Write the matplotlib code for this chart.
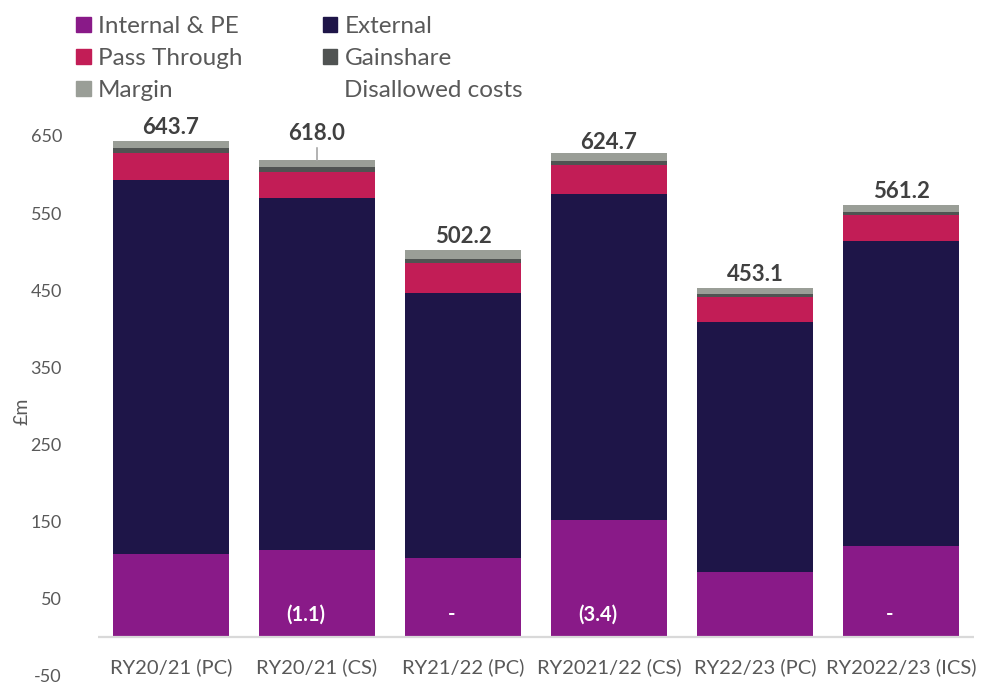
import matplotlib
matplotlib.use("Agg")
import matplotlib.pyplot as plt
from matplotlib.patches import Patch
import numpy as np

categories = ["RY20/21 (PC)", "RY20/21 (CS)", "RY21/22 (PC)", "RY2021/22 (CS)",
              "RY22/23 (PC)", "RY2022/23 (ICS)"]
internal_pe = [108.7, 113.9, 103.5, 152.0, 85.0, 118.6]
external = [483.9, 456.1, 342.9, 422.8, 323.5, 395.8]
pass_through = [35.0, 33.7, 38.6, 37.6, 33.2, 33.6]
gainshare = [6.5, 5.7, 5.5, 5.6, 3.1, 3.4]
margin = [9.6, 9.7, 11.7, 10.1, 8.3, 9.8]
disallowed = [0.0, -1.1, 0.0, -3.4, 0.0, 0.0]
disallowed_labels = ["", "(1.1)", "-", "(3.4)", "", "-"]
totals = [643.7, 618.0, 502.2, 624.7, 453.1, 561.2]
yticks = [-50, 50, 150, 250, 350, 450, 550, 650]

C_INT = "#891A88"
C_EXT = "#1E1548"
C_PT = "#C21D56"
C_GS = "#505352"
C_MG = "#9A9E97"
TXT = "#595959"

plt.rcParams["font.family"] = ["Lato", "DejaVu Sans"]

fig = plt.figure(figsize=(9.82, 6.86), dpi=100)
ax = fig.add_axes([98 / 982, 1 - 676 / 686, 876 / 982, 540 / 686])

x = np.arange(len(categories))
w = 0.80
bottom = np.zeros(len(categories))
series = [(internal_pe, C_INT), (external, C_EXT), (pass_through, C_PT),
          (gainshare, C_GS), (margin, C_MG)]
for vals, col in series:
    v = np.array(vals)
    ax.bar(x, v, w, bottom=bottom, color=col, linewidth=0)
    bottom += v
ax.bar(x, disallowed, w, bottom=0, color="#FFFFFF", linewidth=0)

ax.set_xlim(-0.5, 5.5)
ax.set_ylim(-50, 650)
ax.set_yticks(yticks)
ax.set_yticklabels([str(t) for t in yticks], fontsize=13, color=TXT)
ax.tick_params(axis="y", length=0, pad=26)
ax.set_xticks([])
for s in ax.spines.values():
    s.set_visible(False)
ax.axhline(0, color="#D9D9D9", lw=1.6, zorder=3)

for i, c in enumerate(categories):
    ax.text(x[i], -38, c, ha="center", va="center", fontsize=14.5, color=TXT)

# total labels
for i, t in enumerate(totals):
    if i == 1:
        ax.annotate(f"{t:.1f}", xy=(x[i], t + 0.5), xytext=(0, 12),
                    textcoords="offset points", ha="center", va="bottom",
                    fontsize=16, fontweight="bold", color="#404040",
                    arrowprops=dict(arrowstyle="-", color="#A6A6A6", lw=1.2,
                                    shrinkA=1, shrinkB=0))
    else:
        ax.annotate(f"{t:.1f}", xy=(x[i], t), xytext=(0, 2),
                    textcoords="offset points", ha="center", va="bottom",
                    fontsize=16, fontweight="bold", color="#404040")

# disallowed cost labels inside the internal segment
for i, lab in enumerate(disallowed_labels):
    if lab:
        ax.text(x[i] - 0.08, 30, lab, ha="center", va="center", fontsize=14.5,
                fontweight="bold", color="white")

ax.set_ylabel("£m", fontsize=14, color=TXT)
ax.yaxis.set_label_coords(-0.077, 0.49)

handles = [Patch(color=C_INT), Patch(color=C_PT), Patch(color=C_MG),
           Patch(color=C_EXT), Patch(color=C_GS), Patch(color="none")]
labels = ["Internal & PE", "Pass Through", "Margin",
          "External", "Gainshare", "Disallowed costs"]
leg = fig.legend(handles, labels, ncol=2, loc="upper left",
                 bbox_to_anchor=(76 / 982, 1 - 16 / 686), frameon=False,
                 fontsize=17.5, handlelength=0.6, handleheight=0.6,
                 handletextpad=0.3, columnspacing=3.3, labelspacing=0.45,
                 borderaxespad=0, borderpad=0)
for t in leg.get_texts():
    t.set_color(TXT)

fig.savefig("out.png", dpi=100)
